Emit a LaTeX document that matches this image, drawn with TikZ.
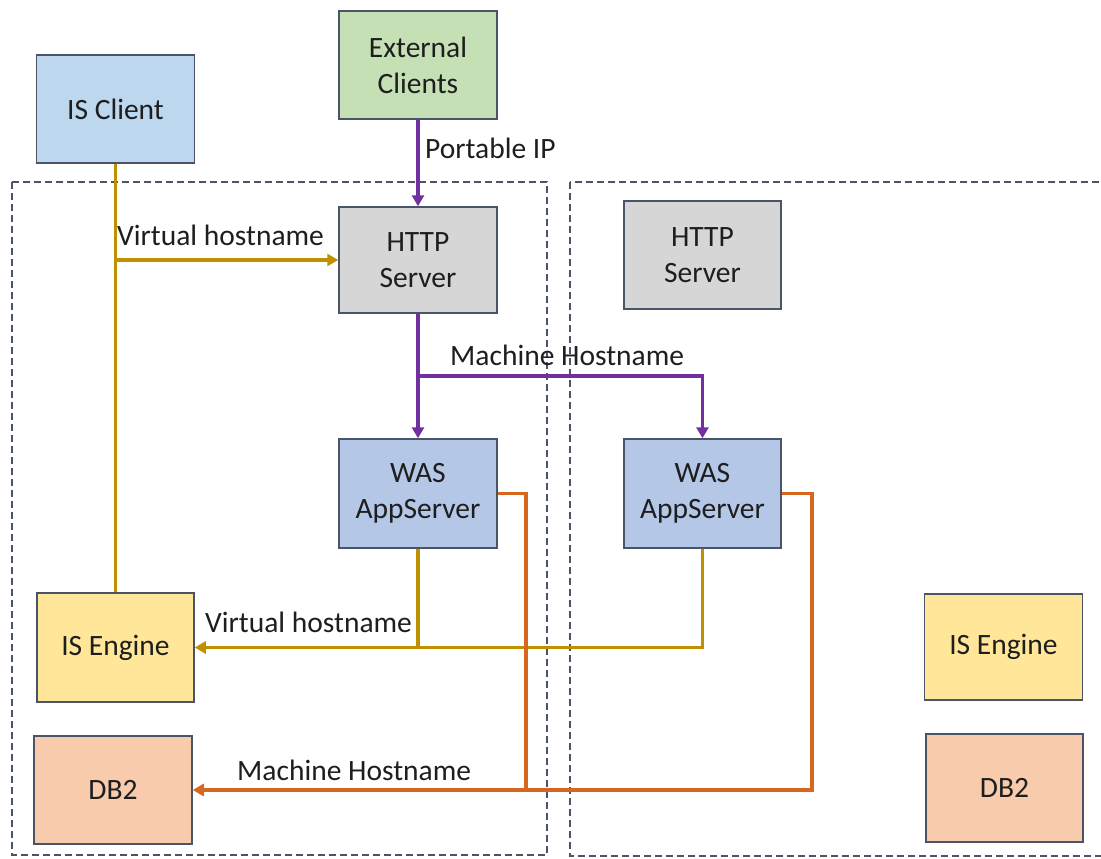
\documentclass[tikz,border=0pt]{standalone}
\usepackage{fontspec}
\setmainfont{Carlito}
\usetikzlibrary{arrows.meta,calc}
\definecolor{bordc}{HTML}{4A5468}
\definecolor{dashc}{HTML}{4A5468}
\definecolor{txtc}{HTML}{1E1E1E}
\definecolor{fclient}{HTML}{BDD7EE}
\definecolor{fext}{HTML}{C5E0B4}
\definecolor{fhttp}{HTML}{D6D6D6}
\definecolor{fwas}{HTML}{B4C7E7}
\definecolor{feng}{HTML}{FFE699}
\definecolor{fdb}{HTML}{F8CBAD}
\definecolor{cgold}{HTML}{BF9000}
\definecolor{cpurple}{HTML}{7030A0}
\definecolor{corange}{HTML}{D9661F}
\tikzset{
  boxnode/.style={draw=bordc, line width=1.5pt, rectangle, minimum width=158pt, minimum height=108pt,
    align=center, text=txtc, inner sep=0pt, font=\fontsize{29.5}{36}\selectfont},
  lbl/.style={anchor=base west, inner sep=0pt, text=txtc, font=\fontsize{29.5}{36}\selectfont},
  conn/.style={line width=3.5pt},
  tip/.style={-{Triangle[length=11pt,width=12pt]}},
  zone/.style={draw=dashc, line width=1.2pt, dash pattern=on 7pt off 4pt}
}
\begin{document}
\begin{tikzpicture}[x=1pt,y=-1pt]
\useasboundingbox (0,0) rectangle (1101,859);
\clip (0,0) rectangle (1101,859);
% zones
\draw[zone] (12,182) rectangle (547,855);
\draw[zone] (570,182) rectangle (1112,856);
% boxes
\node[boxnode, fill=fclient] (isclient) at (115.5,109) {IS Client};
\node[boxnode, fill=fext] (ext) at (418,65) {External\\Clients};
\node[boxnode, fill=fhttp, minimum height=106pt] (http1) at (418,260) {HTTP\\Server};
\node[boxnode, fill=fhttp, minimum width=157pt] (http2) at (702.5,255) {HTTP\\Server};
\node[boxnode, fill=fwas, minimum height=109pt] (was1) at (418,493.5) {WAS\\AppServer};
\node[boxnode, fill=fwas, minimum width=157pt, minimum height=109pt] (was2) at (702.5,493.5) {WAS\\AppServer};
\node[boxnode, fill=feng, minimum width=157pt, minimum height=109pt] (iseng1) at (115.5,647.5) {IS Engine};
\node[boxnode, fill=fdb] (db2a) at (113,790) {DB2};
\node[boxnode, fill=feng, minimum height=106pt] (iseng2) at (1003.5,647) {IS Engine};
\node[boxnode, fill=fdb, minimum width=157pt] (db2b) at (1004.5,788) {DB2};
% purple connectors
\draw[conn, draw=cpurple, tip] (ext.south) -- (http1.north);
\draw[conn, draw=cpurple] (http1.south) -- ++(0,62) coordinate (j);
\draw[conn, draw=cpurple, tip] (j) -- (was1.north);
\draw[conn, draw=cpurple, tip] (j) -| (was2.north);
% gold connectors
\draw[conn, draw=cgold] (isclient.south) -- (iseng1.north);
\draw[conn, draw=cgold, tip] (isclient.south |- http1.west) -- (http1.west);
\draw[conn, draw=cgold] (was1.south) -- (was1.south |- iseng1.east);
\draw[conn, draw=cgold, tip] (was2.south) |- (iseng1.east);
% orange connectors
\draw[conn, draw=corange] (was1.east) -- ++(28,0) coordinate (o1) -- (o1 |- db2a.east);
\draw[conn, draw=corange, tip] (was2.east) -- ++(30,0) |- (db2a.east);
% labels
\node[lbl] (lpip) at (425,158) {Portable IP};
\node[lbl] (lvh1) at (117,245) {Virtual hostname};
\node[lbl] (lmh1) at (450,365) {Machine Hostname};
\node[lbl] (lvh2) at (205,632) {Virtual hostname};
\node[lbl] (lmh2) at (237,780) {Machine Hostname};
\end{tikzpicture}
\end{document}
